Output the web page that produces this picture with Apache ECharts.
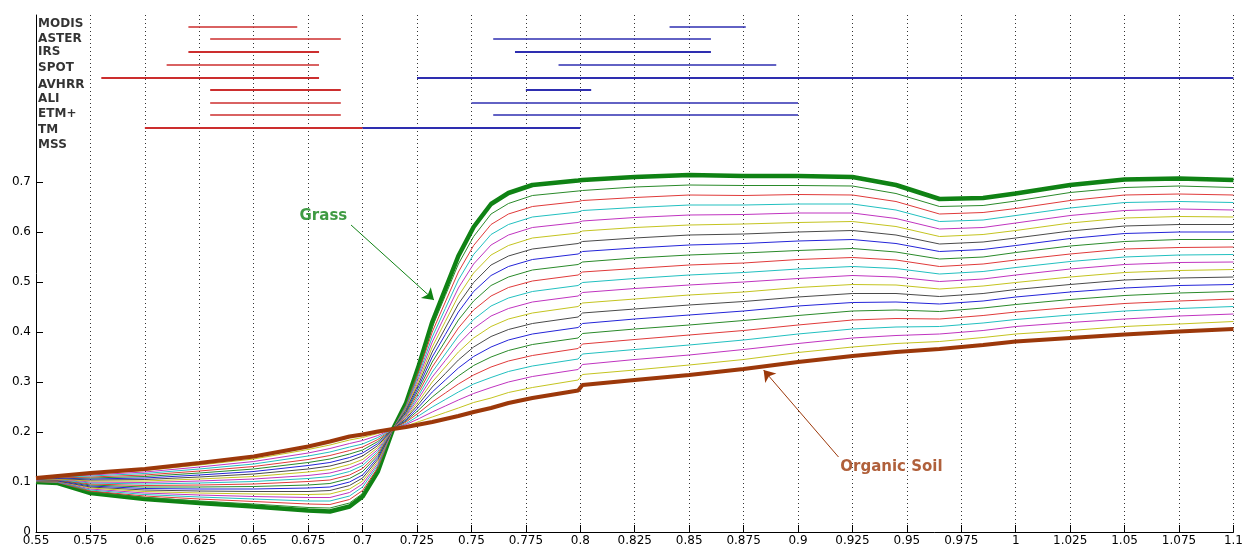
<!DOCTYPE html>
<html>
<head>
<meta charset="utf-8">
<title>Grass / Organic Soil mixtures</title>
<script src="https://cdn.jsdelivr.net/npm/echarts@6/dist/echarts.min.js"></script>
<style>
html, body { margin: 0; padding: 0; background: #fff; }
#main { width: 1246px; height: 548px; }
</style>
</head>
<body>
<div id="main"></div>
<script>
// wavelength in micrometres
var wavelengths = [0.55, 0.56, 0.575, 0.6, 0.625, 0.65, 0.675, 0.685, 0.694, 0.7, 0.707, 0.714, 0.72, 0.726, 0.732, 0.738, 0.744, 0.751, 0.759, 0.767, 0.778, 0.799, 0.801, 0.825, 0.85, 0.875, 0.9, 0.925, 0.945, 0.965, 0.985, 1.0, 1.025, 1.05, 1.075, 1.1];

// reflectance of the two end members
var grass = [0.100, 0.098, 0.078, 0.066, 0.058, 0.051, 0.043, 0.041, 0.051, 0.071, 0.121, 0.206, 0.258, 0.335, 0.420, 0.486, 0.552, 0.610, 0.656, 0.678, 0.694, 0.703, 0.704, 0.710, 0.714, 0.712, 0.712, 0.710, 0.694, 0.666, 0.668, 0.677, 0.694, 0.705, 0.707, 0.704];
var organicSoil = [0.108, 0.112, 0.118, 0.126, 0.138, 0.151, 0.171, 0.181, 0.191, 0.195, 0.201, 0.206, 0.210, 0.215, 0.220, 0.226, 0.232, 0.240, 0.248, 0.258, 0.268, 0.283, 0.294, 0.304, 0.314, 0.326, 0.340, 0.352, 0.360, 0.366, 0.374, 0.381, 0.388, 0.395, 0.401, 0.406];

// mixed spectra, named by soil fraction (%)
var mix05 = [0.100, 0.099, 0.080, 0.069, 0.062, 0.056, 0.049, 0.048, 0.058, 0.077, 0.125, 0.206, 0.256, 0.329, 0.410, 0.473, 0.536, 0.591, 0.636, 0.657, 0.673, 0.682, 0.683, 0.690, 0.694, 0.693, 0.693, 0.692, 0.677, 0.651, 0.653, 0.662, 0.679, 0.689, 0.692, 0.689];
var mix10 = [0.101, 0.099, 0.082, 0.072, 0.066, 0.061, 0.056, 0.055, 0.065, 0.083, 0.129, 0.206, 0.253, 0.323, 0.400, 0.460, 0.520, 0.573, 0.615, 0.636, 0.651, 0.661, 0.663, 0.669, 0.674, 0.673, 0.675, 0.674, 0.661, 0.636, 0.639, 0.647, 0.663, 0.674, 0.676, 0.674];
var mix15 = [0.101, 0.100, 0.084, 0.075, 0.070, 0.066, 0.062, 0.062, 0.072, 0.090, 0.133, 0.206, 0.251, 0.317, 0.390, 0.447, 0.504, 0.555, 0.595, 0.615, 0.630, 0.640, 0.643, 0.649, 0.654, 0.654, 0.656, 0.656, 0.644, 0.621, 0.624, 0.633, 0.648, 0.659, 0.661, 0.659];
var mix20 = [0.102, 0.101, 0.086, 0.078, 0.074, 0.071, 0.069, 0.069, 0.079, 0.096, 0.137, 0.206, 0.248, 0.311, 0.380, 0.434, 0.488, 0.536, 0.574, 0.594, 0.609, 0.619, 0.622, 0.629, 0.634, 0.635, 0.638, 0.638, 0.627, 0.606, 0.609, 0.618, 0.633, 0.643, 0.646, 0.644];
var mix25 = [0.102, 0.102, 0.088, 0.081, 0.078, 0.076, 0.075, 0.076, 0.086, 0.102, 0.141, 0.206, 0.246, 0.305, 0.370, 0.421, 0.472, 0.518, 0.554, 0.573, 0.588, 0.598, 0.602, 0.609, 0.614, 0.616, 0.619, 0.621, 0.611, 0.591, 0.595, 0.603, 0.618, 0.628, 0.631, 0.630];
var mix30 = [0.102, 0.102, 0.090, 0.084, 0.082, 0.081, 0.081, 0.083, 0.093, 0.108, 0.145, 0.206, 0.244, 0.299, 0.360, 0.408, 0.456, 0.499, 0.534, 0.552, 0.566, 0.577, 0.581, 0.588, 0.594, 0.596, 0.600, 0.603, 0.594, 0.576, 0.580, 0.588, 0.602, 0.612, 0.615, 0.615];
var mix35 = [0.103, 0.103, 0.092, 0.087, 0.086, 0.086, 0.088, 0.090, 0.100, 0.114, 0.149, 0.206, 0.241, 0.293, 0.350, 0.395, 0.440, 0.481, 0.513, 0.531, 0.545, 0.556, 0.561, 0.568, 0.574, 0.577, 0.582, 0.585, 0.577, 0.561, 0.565, 0.573, 0.587, 0.597, 0.600, 0.600];
var mix40 = [0.103, 0.104, 0.094, 0.090, 0.090, 0.091, 0.094, 0.097, 0.107, 0.121, 0.153, 0.206, 0.239, 0.287, 0.340, 0.382, 0.424, 0.462, 0.493, 0.510, 0.524, 0.535, 0.540, 0.548, 0.554, 0.558, 0.563, 0.567, 0.560, 0.546, 0.550, 0.559, 0.572, 0.581, 0.585, 0.585];
var mix45 = [0.104, 0.104, 0.096, 0.093, 0.094, 0.096, 0.101, 0.104, 0.114, 0.127, 0.157, 0.206, 0.236, 0.281, 0.330, 0.369, 0.408, 0.444, 0.472, 0.489, 0.502, 0.514, 0.520, 0.527, 0.534, 0.538, 0.545, 0.549, 0.544, 0.531, 0.536, 0.544, 0.556, 0.566, 0.569, 0.570];
var mix50 = [0.104, 0.105, 0.098, 0.096, 0.098, 0.101, 0.107, 0.111, 0.121, 0.133, 0.161, 0.206, 0.234, 0.275, 0.320, 0.356, 0.392, 0.425, 0.452, 0.468, 0.481, 0.493, 0.499, 0.507, 0.514, 0.519, 0.526, 0.531, 0.527, 0.516, 0.521, 0.529, 0.541, 0.550, 0.554, 0.555];
var mix55 = [0.104, 0.106, 0.100, 0.099, 0.102, 0.106, 0.113, 0.118, 0.128, 0.139, 0.165, 0.206, 0.232, 0.269, 0.310, 0.343, 0.376, 0.407, 0.432, 0.447, 0.460, 0.472, 0.479, 0.487, 0.494, 0.500, 0.507, 0.513, 0.510, 0.501, 0.506, 0.514, 0.526, 0.535, 0.539, 0.540];
var mix60 = [0.105, 0.106, 0.102, 0.102, 0.106, 0.111, 0.120, 0.125, 0.135, 0.145, 0.169, 0.206, 0.229, 0.263, 0.300, 0.330, 0.360, 0.388, 0.411, 0.426, 0.438, 0.451, 0.458, 0.466, 0.474, 0.480, 0.489, 0.495, 0.494, 0.486, 0.492, 0.499, 0.510, 0.519, 0.523, 0.525];
var mix65 = [0.105, 0.107, 0.104, 0.105, 0.110, 0.116, 0.126, 0.132, 0.142, 0.152, 0.173, 0.206, 0.227, 0.257, 0.290, 0.317, 0.344, 0.370, 0.391, 0.405, 0.417, 0.430, 0.438, 0.446, 0.454, 0.461, 0.470, 0.477, 0.477, 0.471, 0.477, 0.485, 0.495, 0.504, 0.508, 0.510];
var mix70 = [0.106, 0.108, 0.106, 0.108, 0.114, 0.121, 0.133, 0.139, 0.149, 0.158, 0.177, 0.206, 0.224, 0.251, 0.280, 0.304, 0.328, 0.351, 0.370, 0.384, 0.396, 0.409, 0.417, 0.426, 0.434, 0.442, 0.452, 0.459, 0.460, 0.456, 0.462, 0.470, 0.480, 0.488, 0.493, 0.495];
var mix75 = [0.106, 0.109, 0.108, 0.111, 0.118, 0.126, 0.139, 0.146, 0.156, 0.164, 0.181, 0.206, 0.222, 0.245, 0.270, 0.291, 0.312, 0.333, 0.350, 0.363, 0.375, 0.388, 0.397, 0.406, 0.414, 0.423, 0.433, 0.442, 0.444, 0.441, 0.448, 0.455, 0.465, 0.473, 0.478, 0.481];
var mix80 = [0.106, 0.109, 0.110, 0.114, 0.122, 0.131, 0.145, 0.153, 0.163, 0.170, 0.185, 0.206, 0.220, 0.239, 0.260, 0.278, 0.296, 0.314, 0.330, 0.342, 0.353, 0.367, 0.376, 0.385, 0.394, 0.403, 0.414, 0.424, 0.427, 0.426, 0.433, 0.440, 0.449, 0.457, 0.462, 0.466];
var mix85 = [0.107, 0.110, 0.112, 0.117, 0.126, 0.136, 0.152, 0.160, 0.170, 0.176, 0.189, 0.206, 0.217, 0.233, 0.250, 0.265, 0.280, 0.296, 0.309, 0.321, 0.332, 0.346, 0.356, 0.365, 0.374, 0.384, 0.396, 0.406, 0.410, 0.411, 0.418, 0.425, 0.434, 0.442, 0.447, 0.451];
var mix90 = [0.107, 0.111, 0.114, 0.120, 0.130, 0.141, 0.158, 0.167, 0.177, 0.183, 0.193, 0.206, 0.215, 0.227, 0.240, 0.252, 0.264, 0.277, 0.289, 0.300, 0.311, 0.325, 0.335, 0.345, 0.354, 0.365, 0.377, 0.388, 0.393, 0.396, 0.403, 0.411, 0.419, 0.426, 0.432, 0.436];
var mix95 = [0.108, 0.111, 0.116, 0.123, 0.134, 0.146, 0.165, 0.174, 0.184, 0.189, 0.197, 0.206, 0.212, 0.221, 0.230, 0.239, 0.248, 0.259, 0.268, 0.279, 0.289, 0.304, 0.315, 0.324, 0.334, 0.345, 0.359, 0.370, 0.377, 0.381, 0.389, 0.396, 0.403, 0.411, 0.416, 0.421];

// sensor red / NIR bands (micrometres)
var sensors  = ["MODIS", "ASTER", "IRS", "SPOT", "AVHRR", "ALI", "ETM+", "TM", "MSS"];
var redStart = [0.62, 0.63, 0.62, 0.61, 0.58, 0.63, 0.63, 0.63, 0.60];
var redEnd   = [0.67, 0.69, 0.68, 0.68, 0.68, 0.69, 0.69, 0.69, 0.70];
var nirStart = [0.841, 0.76, 0.77, 0.79, 0.725, 0.775, 0.75, 0.76, 0.70];
var nirEnd   = [0.876, 0.86, 0.86, 0.89, 1.10, 0.805, 0.90, 0.90, 0.80];
var bandRowY  = [1.010, 0.986, 0.960, 0.934, 0.908, 0.884, 0.858, 0.834, 0.808];
var labelRowY = [1.016, 0.986, 0.960, 0.928, 0.894, 0.866, 0.836, 0.804, 0.774];

var yTicks = [0, 0.1, 0.2, 0.3, 0.4, 0.5, 0.6, 0.7];

var mixes = [mix05, mix10, mix15, mix20, mix25, mix30, mix35, mix40, mix45, mix50,
             mix55, mix60, mix65, mix70, mix75, mix80, mix85, mix90, mix95];

// matlab's old colour order (blue, green, red, cyan, magenta, yellow, grey)
var matlabColors = ["#2424d8", "#2a8a2a", "#e03a3a", "#22c0c0", "#c034c0", "#c4c420", "#4a4a4a"];
var GREEN = "#0f8214";
var BROWN = "#9c380a";
var BAND_RED = "#cc2e2e";
var BAND_BLUE = "#2e2eb0";
var bandWidths = [1.4, 1.4, 1.8, 1.6, 2, 1.8, 1.4, 1.4, 2];

function pairs(arr) {
  return wavelengths.map(function (w, i) { return [w, arr[i]]; });
}

var myChart = echarts.init(document.getElementById("main"));

var series = [];
series.push({
  name: "Grass", type: "line", data: pairs(grass), showSymbol: false, silent: true,
  lineStyle: { color: GREEN, width: 4.5 }
});
mixes.forEach(function (m, k) {
  series.push({
    type: "line", data: pairs(m), showSymbol: false, silent: true,
    lineStyle: { color: matlabColors[(k + 1) % 7], width: 1 }
  });
});
series.push({
  name: "Organic Soil", type: "line", data: pairs(organicSoil), showSymbol: false, silent: true,
  lineStyle: { color: BROWN, width: 4 }
});

// sensor band bars, one short line per band
sensors.forEach(function (s, i) {
  series.push({
    type: "line", showSymbol: false, silent: true, z: 3,
    data: [[redStart[i], bandRowY[i]], [redEnd[i], bandRowY[i]]],
    lineStyle: { color: BAND_RED, width: bandWidths[i] }
  });
  series.push({
    type: "line", showSymbol: false, silent: true, z: 3,
    data: [[nirStart[i], bandRowY[i]], [nirEnd[i], bandRowY[i]]],
    lineStyle: { color: BAND_BLUE, width: bandWidths[i] }
  });
});
series.push({
  type: "scatter", symbolSize: 0, silent: true,
  data: sensors.map(function (s, i) { return { name: s, value: [0.5505, labelRowY[i]] }; }),
  label: {
    show: true, position: "right", distance: 1, formatter: "{b}",
    fontFamily: "DejaVu Sans", fontWeight: "bold", fontSize: 12, color: "#000", textBorderWidth: 0
  }
});

// annotations with arrows
series.push({
  type: "scatter", symbolSize: 0, silent: true,
  data: [{ name: "Grass", value: [0.682, 0.632] }],
  label: { show: true, position: "inside", formatter: "{b}", fontFamily: "DejaVu Sans", fontWeight: "bold", fontSize: 15, color: GREEN, textBorderWidth: 0 },
  markLine: {
    silent: true, animation: false, symbol: ["none", "arrow"], symbolSize: 11,
    label: { show: false },
    lineStyle: { color: GREEN, width: 1, type: "solid" },
    data: [[{ coord: [0.6947, 0.614] }, { coord: [0.7328, 0.464] }]]
  }
});
series.push({
  type: "scatter", symbolSize: 0, silent: true,
  data: [{ name: "Organic Soil", value: [0.9429, 0.13] }],
  label: { show: true, position: "inside", formatter: "{b}", fontFamily: "DejaVu Sans", fontWeight: "bold", fontSize: 15, color: BROWN, textBorderWidth: 0 },
  markLine: {
    silent: true, animation: false, symbol: ["none", "arrow"], symbolSize: 11,
    label: { show: false },
    lineStyle: { color: BROWN, width: 1, type: "solid" },
    data: [[{ coord: [0.9186, 0.15] }, { coord: [0.8842, 0.324] }]]
  }
});

myChart.setOption({
  animation: false,
  backgroundColor: "#fff",
  grid: { left: 36, right: 9, top: 15, bottom: 16 },
  xAxis: {
    type: "value", min: 0.55, max: 1.1, interval: 0.025,
    axisLine: { show: true, onZero: false, lineStyle: { color: "#000", width: 1 } },
    axisTick: { show: true, inside: true, length: 7, lineStyle: { color: "#000" } },
    axisLabel: {
      margin: 3, fontFamily: "DejaVu Sans", fontSize: 12, color: "#000",
      formatter: function (v) { return String(+v.toFixed(3)); }
    },
    splitLine: { show: true, lineStyle: { color: "#333", width: 1, type: [1, 3] } }
  },
  yAxis: {
    type: "value", min: 0, max: 1.034, interval: 0.1,
    axisLine: { show: true, onZero: false, lineStyle: { color: "#000", width: 1 } },
    axisTick: { show: true, inside: true, length: 7, customValues: yTicks, lineStyle: { color: "#000" } },
    axisLabel: {
      margin: 5, fontFamily: "DejaVu Sans", fontSize: 12, color: "#000", customValues: yTicks,
      formatter: function (v) { return String(+v.toFixed(2)); }
    },
    splitLine: { show: false }
  },
  series: series
});
</script>
</body>
</html>
